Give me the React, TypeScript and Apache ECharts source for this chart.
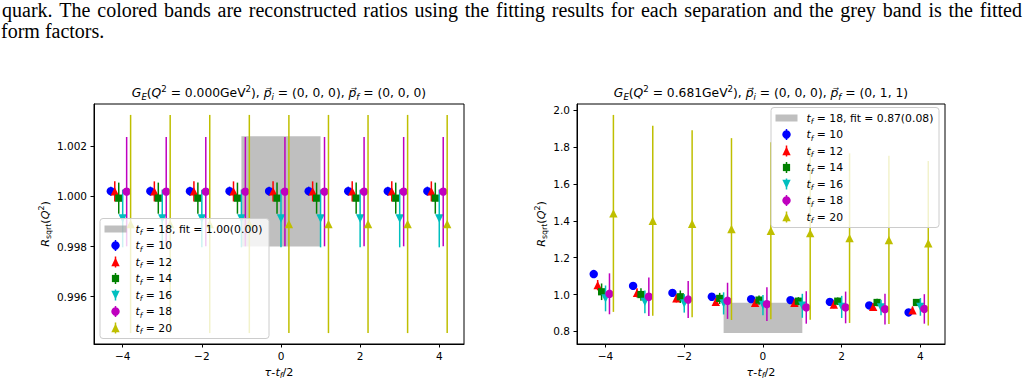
import React, { useEffect, useRef } from "react";
import * as echarts from "echarts";

// Caption text above the two panels
const captionLine1 =
  "quark. The colored bands are reconstructed ratios using the fitting results for each separation and the grey band is the fitted";
const captionLine2 = "form factors.";

// Source-sink separations and the horizontal offset used for each t_f
const separations = [-4, -3, -2, -1, 0, 1, 2, 3, 4];
const sinkTimes = [10, 12, 14, 16, 18, 20];
const sinkOffsets = [-0.3, -0.2, -0.1, 0, 0.1, 0.2];
const sinkColors = ["#0000ff", "#ff0000", "#008000", "#00bfbf", "#bf00bf", "#bfbf00"];
const sinkMarkers = ["circle", "triangleUp", "square", "triangleDown", "circle", "triangleUp"];

const xTicks = [-4, -2, 0, 2, 4];
const restYTicks = [0.996, 0.998, 1.0, 1.002];
const movingYTicks = [0.8, 1.0, 1.2, 1.4, 1.6, 1.8, 2.0];

// Panel 1: Q^2 = 0.000 GeV^2, p_i = (0,0,0), p_f = (0,0,0)
const restTf10 = [1.00021, 1.00021, 1.00021, 1.00021, 1.00021, 1.00021, 1.00021, 1.00021, 1.00021];
const restTf10Err = [0.00018, 0.00018, 0.00018, 0.00018, 0.00018, 0.00018, 0.00018, 0.00018, 0.00018];
const restTf12 = [1.0002, 1.0002, 1.0002, 1.0002, 1.0002, 1.0002, 1.0002, 1.0002, 1.0002];
const restTf12Err = [0.0004, 0.0004, 0.0004, 0.0004, 0.0004, 0.0004, 0.0004, 0.0004, 0.0004];
const restTf14 = [0.99993, 0.99993, 0.99993, 0.99993, 0.99993, 0.99993, 0.99993, 0.99993, 0.99993];
const restTf14Err = [0.00062, 0.00062, 0.00062, 0.00062, 0.00062, 0.00062, 0.00062, 0.00062, 0.00062];
const restTf16 = [0.99912, 0.99912, 0.99912, 0.99912, 0.99912, 0.99912, 0.99912, 0.99912, 0.99912];
const restTf16Err = [0.00115, 0.00115, 0.00115, 0.00115, 0.00115, 0.00115, 0.00115, 0.00115, 0.00115];
const restTf18 = [1.00019, 1.00019, 1.00019, 1.00019, 1.00019, 1.00019, 1.00019, 1.00019, 1.00019];
const restTf18Err = [0.00218, 0.00218, 0.00218, 0.00218, 0.00218, 0.00218, 0.00218, 0.00218, 0.00218];
const restTf20 = [0.9989, 0.9989, 0.9989, 0.9989, 0.9989, 0.9989, 0.9989, 0.9989, 0.9989];
const restTf20Err = [0.00435, 0.00435, 0.00435, 0.00435, 0.00435, 0.00435, 0.00435, 0.00435, 0.00435];
const restFit = 1.0002;
const restFitErr = 0.0022;

// Panel 2: Q^2 = 0.681 GeV^2, p_i = (0,0,0), p_f = (0,1,1)
const movingTf10 = [1.111, 1.047, 1.009, 0.988, 0.975, 0.97, 0.96, 0.941, 0.903];
const movingTf10Err = [0.006, 0.006, 0.006, 0.006, 0.006, 0.006, 0.006, 0.006, 0.006];
const movingTf12 = [1.051, 1.009, 0.979, 0.96, 0.955, 0.955, 0.946, 0.933, 0.915];
const movingTf12Err = [0.028, 0.025, 0.022, 0.02, 0.02, 0.02, 0.02, 0.02, 0.02];
const movingTf14 = [1.015, 1.0, 0.988, 0.979, 0.97, 0.964, 0.964, 0.957, 0.957];
const movingTf14Err = [0.045, 0.034, 0.034, 0.03, 0.025, 0.022, 0.02, 0.02, 0.018];
const movingTf16 = [0.979, 0.96, 0.952, 0.952, 0.943, 0.939, 0.933, 0.93, 0.933];
const movingTf16Err = [0.07, 0.062, 0.05, 0.06, 0.055, 0.065, 0.06, 0.042, 0.048];
const movingTf18 = [1.004, 0.988, 0.973, 0.966, 0.948, 0.93, 0.93, 0.921, 0.922];
const movingTf18Err = [0.111, 0.104, 0.1, 0.098, 0.091, 0.088, 0.086, 0.083, 0.08];
const movingTf20 = [1.44, 1.4, 1.384, 1.355, 1.346, 1.333, 1.306, 1.296, 1.278];
const movingTf20Err = [0.534, 0.515, 0.507, 0.493, 0.48, 0.469, 0.46, 0.456, 0.446];
const movingFit = 0.873;
const movingFitErr = 0.082;

const fitWindow = [-1, 1];
const fitSinkTime = 18;

const restValues = [restTf10, restTf12, restTf14, restTf16, restTf18, restTf20];
const restErrors = [restTf10Err, restTf12Err, restTf14Err, restTf16Err, restTf18Err, restTf20Err];
const movingValues = [movingTf10, movingTf12, movingTf14, movingTf16, movingTf18, movingTf20];
const movingErrors = [movingTf10Err, movingTf12Err, movingTf14Err, movingTf16Err, movingTf18Err, movingTf20Err];

const FONT = "DejaVu Sans";
const BAND_COLOR = "rgba(128,128,128,0.5)";
const MARKER_SIZE = 8.4;
const BAR_WIDTH = 1.5;
const TICK_SIZE = 10.5;
const LABEL_SIZE = 10.8;
const AXIS_NAME_SIZE = 11.2;
const TITLE_SIZE = 12.3;
const CAPTION_FONT = "20px 'Liberation Serif'";

// Autoscale limits with 5% margins, like the plotting defaults
function paddedExtent(lo: number, hi: number): [number, number] {
  const pad = 0.05 * (hi - lo);
  return [lo - pad, hi + pad];
}

function yExtent(vals: number[][], errs: number[][], fit: number, fitErr: number) {
  let lo = fit - fitErr;
  let hi = fit + fitErr;
  vals.forEach((row, i) =>
    row.forEach((v, k) => {
      lo = Math.min(lo, v - errs[i][k]);
      hi = Math.max(hi, v + errs[i][k]);
    })
  );
  return paddedExtent(lo, hi);
}

const xExtent = paddedExtent(
  Math.min(...separations) + Math.min(...sinkOffsets),
  Math.max(...separations) + Math.max(...sinkOffsets)
);

function markerShape(kind: string, cx: number, cy: number, color: string, size: number, z2: number) {
  const h = size / 2;
  const style = { fill: color };
  if (kind === "circle") return { type: "circle", z2, shape: { cx, cy, r: h }, style };
  if (kind === "square") {
    const s = size * 0.86;
    return { type: "rect", z2, shape: { x: cx - s / 2, y: cy - s / 2, width: s, height: s }, style };
  }
  if (kind === "triangleDown")
    return { type: "polygon", z2, shape: { points: [[cx, cy + h], [cx - h, cy - h], [cx + h, cy - h]] }, style };
  return { type: "polygon", z2, shape: { points: [[cx, cy - h], [cx - h, cy + h], [cx + h, cy + h]] }, style };
}

function errorbarSeries(panel: number, vals: number[][], errs: number[][]) {
  return sinkTimes.map((tf, i) => ({
    type: "custom",
    name: `tf${tf}`,
    xAxisIndex: panel,
    yAxisIndex: panel,
    z: 3,
    data: separations.map((s, k) => [s + sinkOffsets[i], vals[i][k], errs[i][k]]),
    renderItem: (_params: any, api: any) => {
      const x = api.value(0);
      const y = api.value(1);
      const e = api.value(2);
      const top = api.coord([x, y + e]);
      const bot = api.coord([x, y - e]);
      const c = api.coord([x, y]);
      return {
        type: "group",
        children: [
          {
            type: "line",
            z2: i * 10,
            shape: { x1: top[0], y1: top[1], x2: bot[0], y2: bot[1] },
            style: { stroke: sinkColors[i], lineWidth: BAR_WIDTH },
          },
          markerShape(sinkMarkers[i], c[0], c[1], sinkColors[i], MARKER_SIZE, i * 10 + 1),
        ],
      };
    },
  }));
}

function bandSeries(panel: number, fit: number, fitErr: number) {
  return {
    type: "custom",
    xAxisIndex: panel,
    yAxisIndex: panel,
    z: 1,
    data: [[fitWindow[0], fitWindow[1], fit - fitErr, fit + fitErr]],
    renderItem: (_params: any, api: any) => {
      const p0 = api.coord([api.value(0), api.value(3)]);
      const p1 = api.coord([api.value(1), api.value(2)]);
      return {
        type: "rect",
        shape: { x: p0[0], y: p0[1], width: p1[0] - p0[0], height: p1[1] - p0[1] },
        style: { fill: BAND_COLOR },
      };
    },
  };
}

const rich = (size: number) => ({
  n: { fontFamily: FONT, fontSize: size, lineHeight: size * 1.4, color: "#000" },
  i: { fontFamily: FONT, fontSize: size, fontStyle: "italic", lineHeight: size * 1.4, color: "#000" },
  sub: {
    fontFamily: FONT,
    fontSize: size * 0.7,
    fontStyle: "italic",
    lineHeight: size * 0.7,
    verticalAlign: "bottom",
    color: "#000",
  },
  subr: { fontFamily: FONT, fontSize: size * 0.7, lineHeight: size * 0.7, verticalAlign: "bottom", color: "#000" },
  sup: { fontFamily: FONT, fontSize: size * 0.7, lineHeight: size * 0.7, verticalAlign: "top", color: "#000" },
});

function richText(x: number, y: number, text: string, size: number, align = "center", rotation = 0, z = 10) {
  return {
    type: "text",
    x,
    y,
    rotation,
    z,
    style: { text, rich: rich(size), align, verticalAlign: "middle" },
  };
}

const tfLabel = (tf: number) => `{i|t}{sub|f}{n| = ${tf}}`;

function legendGraphics(left: number, top: number, width: number, height: number, fit: number, fitErr: number) {
  const els: any[] = [];
  els.push({
    type: "rect",
    z: 100,
    shape: { x: left, y: top, width, height, r: 3 },
    style: { fill: "rgba(255,255,255,0.8)", stroke: "#cccccc", lineWidth: 1 },
  });
  const rowY = (k: number) => top + 10.5 + k * 16.5;
  els.push({
    type: "rect",
    z: 101,
    shape: { x: left + 4.5, y: rowY(0) - 3.5, width: 22, height: 7 },
    style: { fill: BAND_COLOR },
  });
  els.push(
    richText(
      left + 35.5,
      rowY(0),
      `{i|t}{sub|f}{n| = ${fitSinkTime}, fit = ${fit.toFixed(2)}(${fitErr.toFixed(2)})}`,
      LABEL_SIZE,
      "left",
      0,
      101
    )
  );
  sinkTimes.forEach((tf, i) => {
    const cy = rowY(i + 1);
    const cx = left + 15.5;
    els.push({
      type: "line",
      z: 101,
      shape: { x1: cx, y1: cy - 5.5, x2: cx, y2: cy + 5.5 },
      style: { stroke: sinkColors[i], lineWidth: BAR_WIDTH },
    });
    els.push({ ...markerShape(sinkMarkers[i], cx, cy, sinkColors[i], MARKER_SIZE, 0), z: 102 });
    els.push(richText(left + 35.5, cy, tfLabel(tf), LABEL_SIZE, "left", 0, 101));
  });
  return els;
}

// Justified first caption line: words spread between the two page edges
function justifiedLine(text: string, x0: number, x1: number, y: number) {
  const words = text.split(" ");
  const ctx = document.createElement("canvas").getContext("2d");
  let widths = words.map((w) => w.length * 8);
  if (ctx) {
    ctx.font = CAPTION_FONT;
    widths = words.map((w) => ctx.measureText(w).width);
  }
  const total = widths.reduce((a, b) => a + b, 0);
  const gap = (x1 - x0 - total) / (words.length - 1);
  let x = x0;
  return words.map((w, k) => {
    const el = {
      type: "text",
      x,
      y,
      style: { text: w, font: CAPTION_FONT, fill: "#000", verticalAlign: "middle" },
    };
    x += widths[k] + gap;
    return el;
  });
}

const minusFmt = (digits: number) => (v: number) =>
  (v < 0 ? "\u2212" : "") + Math.abs(v).toFixed(digits);

function xAxis(panel: number) {
  return {
    type: "value",
    gridIndex: panel,
    min: xExtent[0],
    max: xExtent[1],
    axisLine: { show: true, onZero: false, lineStyle: { color: "#000", width: 1 } },
    splitLine: { show: false },
    axisTick: { show: true, length: 3.5, customValues: xTicks, lineStyle: { color: "#000", width: 1 } },
    axisLabel: {
      customValues: xTicks,
      formatter: minusFmt(0),
      color: "#000",
      fontSize: TICK_SIZE,
      fontFamily: FONT,
      margin: 6,
    },
  };
}

function yAxis(panel: number, ext: number[], ticks: number[], digits: number) {
  return {
    type: "value",
    gridIndex: panel,
    min: ext[0],
    max: ext[1],
    axisLine: { show: true, onZero: false, lineStyle: { color: "#000", width: 1 } },
    splitLine: { show: false },
    axisTick: { show: true, length: 3.5, customValues: ticks, lineStyle: { color: "#000", width: 1 } },
    axisLabel: {
      customValues: ticks,
      formatter: (v: number) => v.toFixed(digits),
      color: "#000",
      fontSize: TICK_SIZE,
      fontFamily: FONT,
      margin: 7,
    },
  };
}

const pVec = "p\u20D7";
const restTitle = `{i|G}{sub|E}{n|(}{i|Q}{sup|2}{n| = 0.000GeV}{sup|2}{n|), }{i|${pVec}}{sub|i}{n| = (0, 0, 0), }{i|${pVec}}{sub|f}{n| = (0, 0, 0)}`;
const movingTitle = `{i|G}{sub|E}{n|(}{i|Q}{sup|2}{n| = 0.681GeV}{sup|2}{n|), }{i|${pVec}}{sub|i}{n| = (0, 0, 0), }{i|${pVec}}{sub|f}{n| = (0, 1, 1)}`;
const xName = "{i|τ}{n|-}{i|t}{sub|f}{n|/2}";
const yName = "{i|R}{subr|sqrt}{n|(}{i|Q}{sup|2}{n|)}";

export default function App() {
  const ref = useRef<HTMLDivElement>(null);

  useEffect(() => {
    if (!ref.current) return;
    const chart = echarts.init(ref.current, undefined, { renderer: "svg" });
    const restY = yExtent(restValues, restErrors, restFit, restFitErr);
    const movingY = yExtent(movingValues, movingErrors, movingFit, movingFitErr);

    const g0 = { left: 94, top: 104, width: 370, height: 240 };
    const g1 = { left: 577, top: 104, width: 368, height: 240 };

    const option: any = {
      animation: false,
      grid: [g0, g1].map((g) => ({ ...g, show: true, borderColor: "#000", borderWidth: 1, backgroundColor: "transparent" })),
      xAxis: [xAxis(0), xAxis(1)],
      yAxis: [yAxis(0, restY, restYTicks, 3), yAxis(1, movingY, movingYTicks, 1)],
      series: [
        bandSeries(0, restFit, restFitErr),
        ...errorbarSeries(0, restValues, restErrors),
        bandSeries(1, movingFit, movingFitErr),
        ...errorbarSeries(1, movingValues, movingErrors),
      ],
      graphic: [
        ...justifiedLine(captionLine1, 2, 1022, 10),
        {
          type: "text",
          x: 1,
          y: 31,
          style: { text: captionLine2, font: CAPTION_FONT, fill: "#000", verticalAlign: "middle" },
        },
        richText(g0.left + g0.width / 2, 93, restTitle, TITLE_SIZE),
        richText(g1.left + g1.width / 2, 93, movingTitle, TITLE_SIZE),
        richText(g0.left + g0.width / 2, 372, xName, AXIS_NAME_SIZE),
        richText(g1.left + g1.width / 2, 372, xName, AXIS_NAME_SIZE),
        richText(45, g0.top + g0.height / 2, yName, AXIS_NAME_SIZE, "center", Math.PI / 2),
        richText(541, g1.top + g1.height / 2, yName, AXIS_NAME_SIZE, "center", Math.PI / 2),
        ...legendGraphics(100, 218.5, 169, 120, restFit, restFitErr),
        ...legendGraphics(771, 107.5, 168, 120, movingFit, movingFitErr),
      ],
    };
    chart.setOption(option);
    return () => chart.dispose();
  }, []);

  return (
    <div
      ref={ref}
      style={{ position: "fixed", left: 0, top: 0, width: 1027, height: 384, background: "#fff" }}
    />
  );
}
